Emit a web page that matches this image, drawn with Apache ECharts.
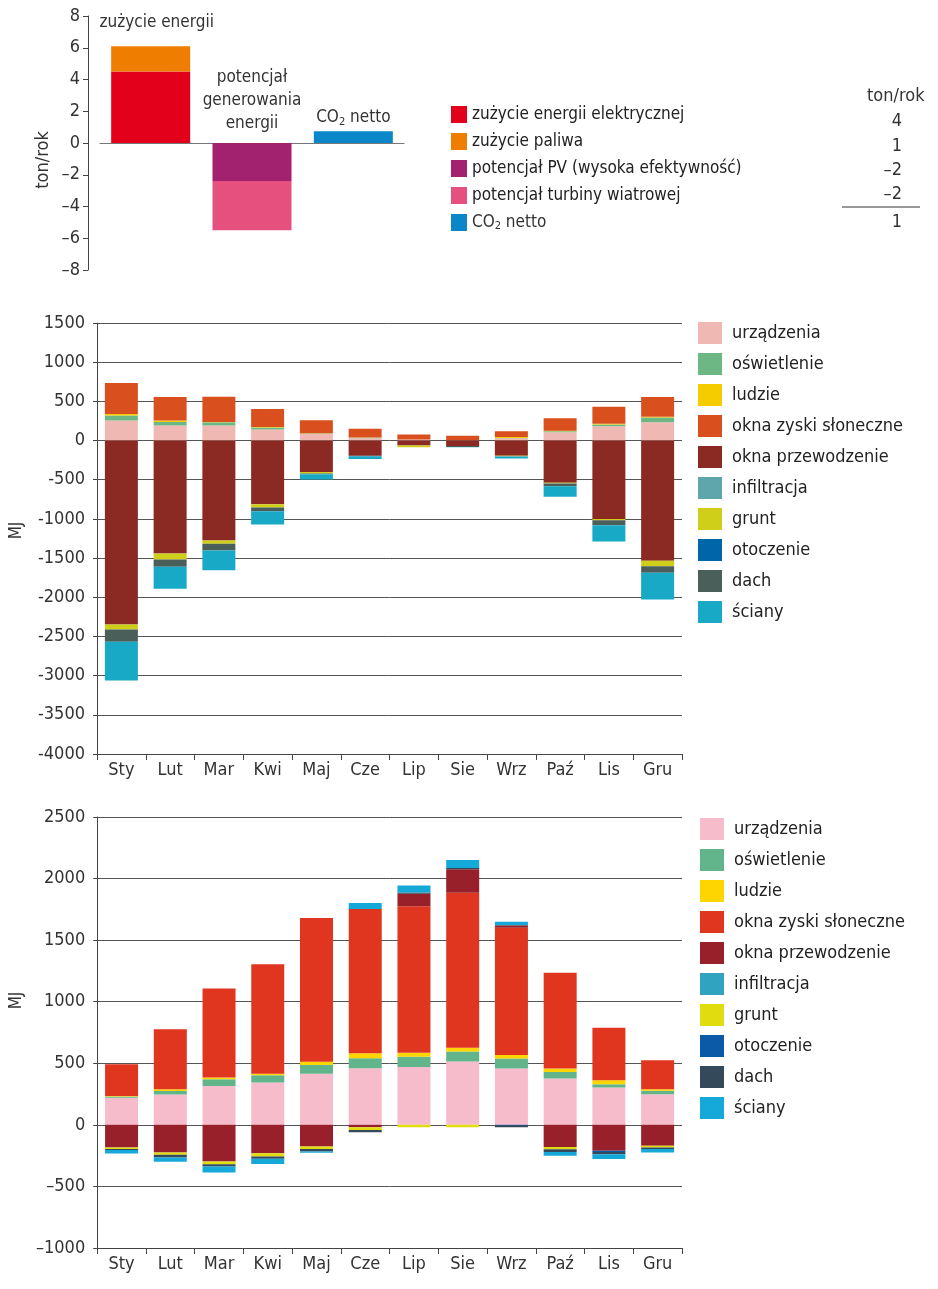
<!DOCTYPE html>
<html>
<head>
<meta charset="utf-8">
<script src="https://cdn.jsdelivr.net/npm/echarts@6/dist/echarts.min.js"></script>
<style>
  html, body { margin: 0; padding: 0; background: #fff; }
  #chart { width: 938px; height: 1289px; }
</style>
</head>
<body>
<div id="chart"></div>
<script>
// --- dane: wykres bilansu CO2 (ton/rok) ---
const topCats = ['zużycie energii', 'potencjał\ngenerowania\nenergii', 'CO2 netto'];
const topNames = ['zużycie energii elektrycznej', 'zużycie paliwa', 'potencjał PV (wysoka efektywność)', 'potencjał turbiny wiatrowej', 'CO2 netto'];
const topColors = ['#e2001a', '#ef7d00', '#a3226f', '#e6507e', '#0a86c9'];
const elec = [4.5, '-', '-'];
const fuel = [1.6, '-', '-'];
const pv = ['-', -2.4, '-'];
const wind = ['-', -3.1, '-'];
const co2 = ['-', '-', 0.74];
const topTable = ['4', '1', '–2', '–2', '1'];

// --- miesiące i składniki bilansu ---
const months = ['Sty', 'Lut', 'Mar', 'Kwi', 'Maj', 'Cze', 'Lip', 'Sie', 'Wrz', 'Paź', 'Lis', 'Gru'];
const names = ['urządzenia', 'oświetlenie', 'ludzie', 'okna zyski słoneczne', 'okna przewodzenie', 'infiltracja', 'grunt', 'otoczenie', 'dach', 'ściany'];
const midColors = ['#f0b8b3', '#6db784', '#f5cc00', '#d9501e', '#8b2a22', '#5ea6ab', '#cfcf1a', '#0066aa', '#4a5e5a', '#17a9c6'];
const lowColors = ['#f7bccb', '#62b48a', '#ffd500', '#e0351e', '#98202a', '#2fa3c0', '#e0dc10', '#0a5aa8', '#34495a', '#15a9d9'];

// wykres środkowy (MJ)
const midUrz = [255, 192, 192, 140, 85, 30, 12, 5, 28, 106, 183, 234];
const midOsw = [65, 45, 40, 25, 5, 5, 0, 0, 3, 12, 22, 60];
const midLud = [18, 18, 4, 8, 3, 4, 0, 0, 14, 7, 8, 10];
const midZys = [396, 302, 322, 230, 165, 110, 65, 57, 75, 158, 217, 253];
const midPrz = [-2347, -1441, -1276, -812, -400, -195, -64, -70, -195, -540, -1000, -1535];
const midInf = [0, 0, 0, 0, 0, 0, 0, 0, 0, 0, 0, 0];
const midGru = [-64, -77, -42, -43, -21, 0, -22, 0, -5, -8, -16, -68];
const midOto = [0, 0, 0, 0, 0, 0, 0, 0, 0, 0, 0, 0];
const midDach = [-157, -93, -85, -46, -10, -5, 0, -12, -5, -35, -64, -85];
const midSci = [-493, -281, -251, -170, -66, -35, 0, -3, -25, -135, -208, -340];

// wykres dolny (MJ)
const lowUrz = [220, 247, 316, 343, 416, 459, 470, 514, 457, 376, 303, 249];
const lowOsw = [10, 28, 54, 60, 70, 81, 84, 81, 81, 53, 27, 27];
const lowLud = [4, 14, 14, 13, 27, 41, 32, 32, 29, 28, 32, 13];
const lowZys = [258, 487, 724, 889, 1167, 1172, 1189, 1258, 1034, 779, 426, 235];
const lowPrz = [-183, -224, -297, -230, -176, -19, 101, 190, 19, -180, -211, -170];
const lowInf = [0, 0, 0, 0, 0, 0, 0, 0, 0, 0, 0, 0];
const lowGru = [-13, -19, -22, -27, -21, -22, -20, -20, 0, -19, 0, -14];
const lowOto = [0, 0, 0, 0, 0, 0, 0, 0, -5, 0, -10, 0];
const lowDach = [-8, -22, -19, -19, -20, -19, 10, 10, -15, -21, -17, -13];
const lowSci = [-28, -35, -48, -42, -10, 49, 58, 65, 30, -31, -40, -27];

const FONT = "'Liberation Sans Narrow', 'DejaVu Sans Condensed', 'Roboto Condensed', sans-serif";
const TXT = '#333';

const midData = [midUrz, midOsw, midLud, midZys, midPrz, midInf, midGru, midOto, midDach, midSci];
const lowData = [lowUrz, lowOsw, lowLud, lowZys, lowPrz, lowInf, lowGru, lowOto, lowDach, lowSci];

function dash(v) {
    return String(v).replace('-', '–');
}

function monthAxis(idx) {
    return {
        type: 'category', gridIndex: idx, data: months,
        axisLine: { onZero: false, lineStyle: { color: '#444', width: 1 } },
        axisTick: { show: true, alignWithLabel: false, length: 6, lineStyle: { color: '#444' } },
        axisLabel: { color: TXT, fontSize: 18, fontFamily: FONT, margin: 7 }
    };
}

// namePad przesuwa obrócony podpis "MJ" w górę
function mjAxis(idx, min, max, fmt, namePad) {
    return {
        type: 'value', gridIndex: idx, min: min, max: max, interval: 500,
        name: 'MJ', nameLocation: 'middle', nameGap: 72, nameRotate: 90,
        nameTextStyle: { color: TXT, fontSize: 17, fontFamily: FONT, padding: [0, 0, 0, namePad] },
        axisLine: { show: true, lineStyle: { color: '#444' } },
        axisTick: { show: true, length: 4, lineStyle: { color: '#444' } },
        splitLine: { lineStyle: { color: '#555', width: 1 } },
        axisLabel: { color: TXT, fontSize: 18, fontFamily: FONT, margin: 12, formatter: fmt }
    };
}

function stackSeries(data, colors, idx, stackName) {
    return data.map(function(vals, i) {
        return {
            type: 'bar', name: names[i], stack: stackName,
            xAxisIndex: idx, yAxisIndex: idx,
            barWidth: 33, data: vals,
            itemStyle: { color: colors[i] },
            emphasis: { disabled: true }
        };
    });
}

function legendFor(colors, left, top) {
    return {
        orient: 'vertical', left: left, top: top,
        itemWidth: 24, itemHeight: 22, itemGap: 9, icon: 'rect',
        selectedMode: false,
        textStyle: { color: '#222', fontSize: 18, fontFamily: FONT, padding: [0, 0, 0, 5] },
        data: names.map(function(n, i) {
            return { name: n, itemStyle: { color: colors[i] } };
        })
    };
}

const co2Rich = {
    n: { fontSize: 17, fontFamily: FONT, color: TXT },
    s: { fontSize: 11, fontFamily: FONT, color: TXT, padding: [8, 0, 0, 0] }
};

let topSeries = [elec, fuel, pv, wind, co2].map(function(vals, i) {
    return {
        type: 'bar', name: topNames[i], stack: 'co2',
        xAxisIndex: 0, yAxisIndex: 0,
        barWidth: 79, data: vals,
        itemStyle: { color: topColors[i] },
        emphasis: { disabled: true }
    };
});
topSeries[1].label = {
    show: true, position: 'top', distance: 15, offset: [6, 0],
    color: TXT, fontSize: 17, fontFamily: FONT,
    formatter: function(p) { return topCats[p.dataIndex]; }
};
topSeries[2].label = {
    show: true, position: 'top', distance: 8,
    color: TXT, fontSize: 17, fontFamily: FONT, lineHeight: 23,
    formatter: function(p) { return topCats[p.dataIndex]; }
};
topSeries[4].label = {
    show: true, position: 'top', distance: 4,
    formatter: '{n|CO}{s|2}{n| netto}', rich: co2Rich
};

let tableGraphics = [
    { type: 'text', left: 867, top: 87, style: { text: 'ton/rok', fill: TXT, font: '18px ' + FONT } },
    { type: 'line', shape: { x1: 842, y1: 207, x2: 920, y2: 207 }, style: { stroke: '#333', lineWidth: 1 } }
];
const tableRows = [121, 146, 170, 194, 222];
topTable.forEach(function(t, i) {
    tableGraphics.push({
        type: 'text', x: 902, y: tableRows[i],
        style: { text: t, fill: TXT, font: '18px ' + FONT, textAlign: 'right', textVerticalAlign: 'middle' }
    });
});

let chart = echarts.init(document.getElementById('chart'));
chart.setOption({
    backgroundColor: '#fff',
    animation: false,
    textStyle: { fontFamily: FONT },
    grid: [
        { left: 100, width: 304, top: 16, height: 254 },
        { left: 92, width: 590, top: 323, height: 431 },
        { left: 92, width: 590, top: 817, height: 431 }
    ],
    xAxis: [
        {
            type: 'category', gridIndex: 0, data: topCats,
            axisLine: { onZero: true, lineStyle: { color: '#777' } },
            axisTick: { show: false }, axisLabel: { show: false }
        },
        monthAxis(1),
        monthAxis(2)
    ],
    yAxis: [
        {
            type: 'value', gridIndex: 0, min: -8, max: 8, interval: 2, offset: 12,
            name: 'ton/rok', nameLocation: 'middle', nameGap: 36, nameRotate: 90,
            nameTextStyle: { color: TXT, fontSize: 18, fontFamily: FONT, padding: [0, 0, 0, -34] },
            axisLine: { show: true, lineStyle: { color: '#444' } },
            axisTick: { show: true, length: 5, lineStyle: { color: '#444' } },
            splitLine: { show: false },
            axisLabel: { color: TXT, fontSize: 18, fontFamily: FONT, margin: 8, formatter: dash }
        },
        mjAxis(1, -4000, 1500, function(v) { return String(v); }, 16),
        mjAxis(2, -1000, 2500, dash, 64)
    ],
    legend: [
        {
            orient: 'vertical', left: 446, top: 101,
            itemWidth: 16, itemHeight: 17, itemGap: 10, icon: 'rect',
            selectedMode: false,
            textStyle: { color: '#222', fontSize: 17, fontFamily: FONT, padding: [0, 0, 0, 0], rich: co2Rich },
            formatter: function(n) { return n === 'CO2 netto' ? '{n|CO}{s|2}{n| netto}' : n; },
            data: topNames
        },
        legendFor(midColors, 693, 317),
        legendFor(lowColors, 695, 813)
    ],
    graphic: tableGraphics,
    series: topSeries
        .concat(stackSeries(midData, midColors, 1, 'mid'))
        .concat(stackSeries(lowData, lowColors, 2, 'low'))
});
</script>
</body>
</html>
